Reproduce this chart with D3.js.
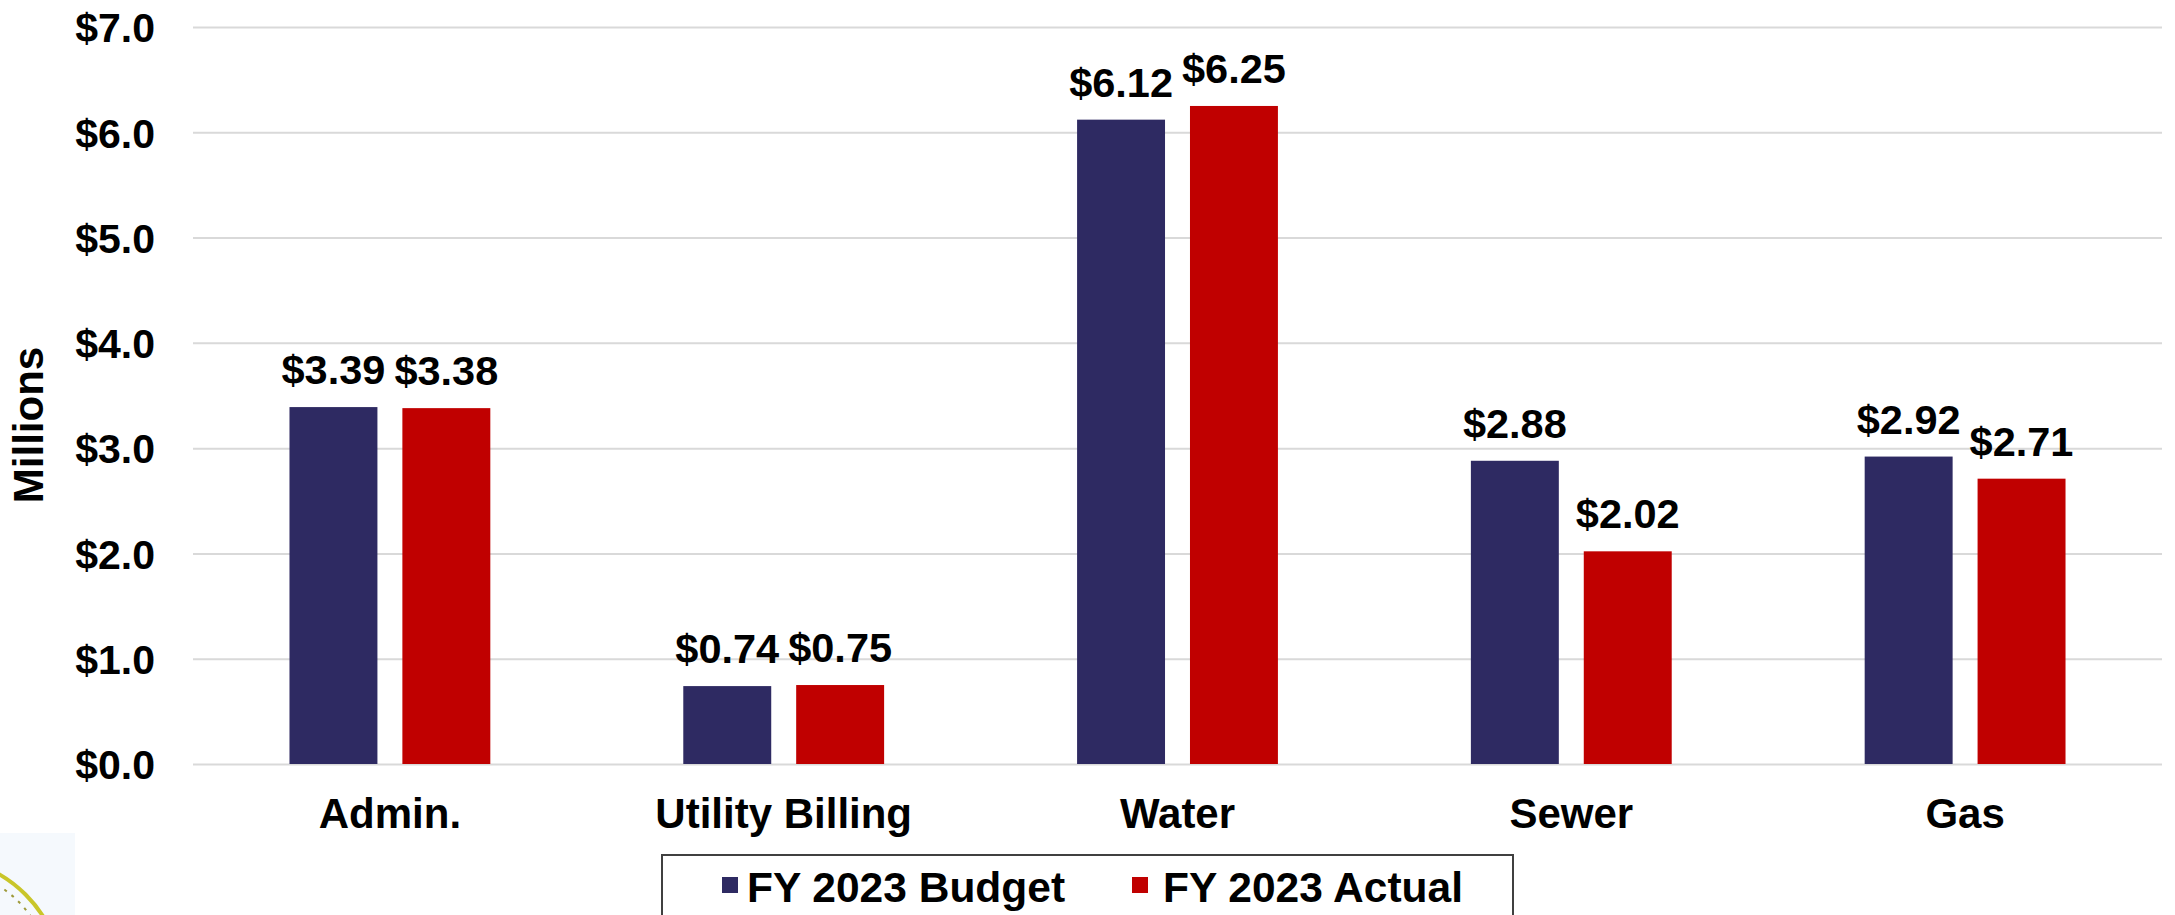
<!DOCTYPE html>
<html>
<head>
<meta charset="utf-8">
<script src="https://cdn.jsdelivr.net/npm/d3@7"></script>
<style>
  body { margin: 0; background: #fff; }
  svg text { font-family: "Liberation Sans", Arial, sans-serif; font-weight: bold; fill: #000; }
</style>
</head>
<body>
<div id="chart"></div>
<script>
// chart data
var categories = ["Admin.", "Utility Billing", "Water", "Sewer", "Gas"];
var seriesNames = ["FY 2023 Budget", "FY 2023 Actual"];
var budget = [3.39, 0.74, 6.12, 2.88, 2.92];
var actual = [3.38, 0.75, 6.25, 2.02, 2.71];
var yTicks = [0, 1, 2, 3, 4, 5, 6, 7];
var colors = ["#2E2A62", "#C00000"];

var W = 2175, H = 915;
var plot = {left: 193, right: 2162, top: 27, bottom: 764};

var svg = d3.select("#chart")
  .append("svg")
    .attr("width", W)
    .attr("height", H);

// faint seal in the corner
var seal = svg.append("g");
seal.append("rect")
  .attr("x", 0).attr("y", 833).attr("width", 75).attr("height", 90)
  .attr("fill", "#F5F9FD");
seal.append("circle")
  .attr("cx", -65).attr("cy", 985).attr("r", 128)
  .attr("fill", "none").attr("stroke", "#C9C62A").attr("stroke-width", 4);
seal.append("circle")
  .attr("cx", -65).attr("cy", 985).attr("r", 118)
  .attr("fill", "none").attr("stroke", "#9E9A3A").attr("stroke-width", 2).attr("stroke-dasharray", "3,6");

var y = d3.scaleLinear()
  .domain([0, 7])
  .range([plot.bottom, plot.top]);

var x0 = d3.scaleBand()
  .domain(categories)
  .range([plot.left, plot.right])
  .paddingInner(0.49)
  .paddingOuter(0.245);

var x1 = d3.scaleBand()
  .domain(seriesNames)
  .range([0, x0.bandwidth()])
  .paddingInner(0.221);

// y axis with gridlines
var yAxis = svg.append("g")
  .attr("transform", "translate(" + plot.left + ",0)")
  .call(d3.axisLeft(y)
    .tickValues(yTicks)
    .tickSize(-(plot.right - plot.left))
    .tickPadding(38)
    .tickFormat(function(d) { return "$" + d3.format(".1f")(d); }));
yAxis.select(".domain").remove();
yAxis.selectAll("line").attr("stroke", "#D9D9D9").attr("stroke-width", 2);
yAxis.selectAll("text")
  .attr("font-size", 41)
  .attr("font-family", "Liberation Sans, Arial, sans-serif")
  .attr("font-weight", "bold")
  .attr("fill", "#000")
  .attr("dy", "0.36em");

svg.append("text")
  .attr("transform", "translate(43,425) rotate(-90)")
  .attr("text-anchor", "middle")
  .attr("font-size", 42)
  .text("Millions");

// x axis labels
var xAxis = svg.append("g")
  .attr("transform", "translate(0," + plot.bottom + ")")
  .call(d3.axisBottom(x0).tickSize(0).tickPadding(34));
xAxis.select(".domain").remove();
xAxis.selectAll("text")
  .attr("font-size", 42)
  .attr("font-family", "Liberation Sans, Arial, sans-serif")
  .attr("font-weight", "bold")
  .attr("fill", "#000");

// bars
var rows = categories.map(function(c, i) {
  return {cat: c, vals: [{s: seriesNames[0], v: budget[i], k: 0}, {s: seriesNames[1], v: actual[i], k: 1}]};
});

var groups = svg.selectAll("g.grp")
  .data(rows)
  .enter()
  .append("g")
    .attr("class", "grp")
    .attr("transform", function(d) { return "translate(" + x0(d.cat) + ",0)"; });

groups.selectAll("rect")
  .data(function(d) { return d.vals; })
  .enter()
  .append("rect")
    .attr("x", function(d) { return x1(d.s); })
    .attr("y", function(d) { return y(d.v); })
    .attr("width", x1.bandwidth())
    .attr("height", function(d) { return y(0) - y(d.v); })
    .attr("fill", function(d) { return colors[d.k]; });

groups.selectAll("text.val")
  .data(function(d) { return d.vals; })
  .enter()
  .append("text")
    .attr("class", "val")
    .attr("x", function(d) { return x1(d.s) + x1.bandwidth() / 2; })
    .attr("y", function(d) { return y(d.v) - 23; })
    .attr("text-anchor", "middle")
    .attr("font-size", 41.5)
    .text(function(d) { return "$" + d3.format(".2f")(d.v); });

// legend
var legend = svg.append("g");
legend.append("rect")
  .attr("x", 662).attr("y", 855)
  .attr("width", 1513 - 662).attr("height", 80)
  .attr("fill", "#fff")
  .attr("stroke", "#404040")
  .attr("stroke-width", 2);

var legendX = [722, 1132];
var legendTextX = [747, 1163];
seriesNames.forEach(function(name, i) {
  legend.append("rect")
    .attr("x", legendX[i]).attr("y", 877)
    .attr("width", 16).attr("height", 16)
    .attr("fill", colors[i]);
  legend.append("text")
    .attr("x", legendTextX[i]).attr("y", 902)
    .attr("font-size", 42.5)
    .text(name);
});
</script>
</body>
</html>
